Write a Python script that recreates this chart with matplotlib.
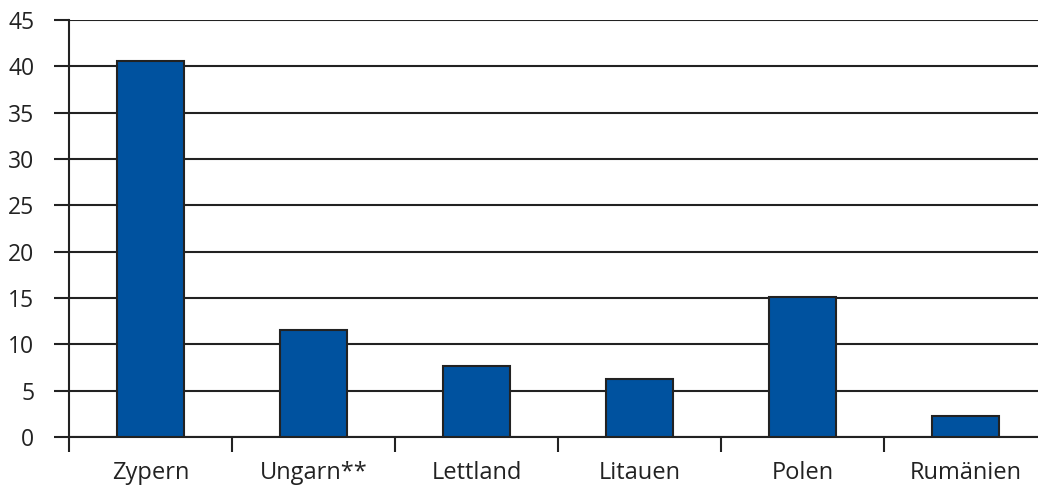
import matplotlib
matplotlib.use("Agg")
import matplotlib.pyplot as plt
import numpy as np

# data
laender = ["Zypern", "Ungarn**", "Lettland", "Litauen", "Polen", "Rumänien"]
werte = [40.6, 11.5, 7.7, 6.3, 15.1, 2.3]
y_ticks = [0, 5, 10, 15, 20, 25, 30, 35, 40, 45]

plt.rcParams['font.family'] = ['Open Sans', 'DejaVu Sans']

fig = plt.figure(figsize=(10.38, 4.88), dpi=100)
# axes runs a bit past the right edge like in the original
ax = fig.add_axes([69 / 1038, 1 - 437 / 488, 978 / 1038, 417 / 488])

x = np.arange(len(laender))
ax.bar(x, werte, width=0.41, color="#00529f", edgecolor="#222222",
       linewidth=1.5, zorder=3)

ax.set_xlim(-0.5, len(laender) - 0.5)
ax.set_ylim(0, 45)
ax.set_yticks(y_ticks)
ax.set_yticklabels([str(t) for t in y_ticks], fontsize=16.5, color="#222222")

# category ticks sit between the bars, labels in the middle
ax.set_xticks(np.arange(-0.5, len(laender), 1.0))
ax.set_xticklabels([])
ax.set_xticks(x, minor=True)
ax.set_xticklabels(laender, minor=True, fontsize=17, color="#222222")
ax.tick_params(axis="x", which="major", length=11, width=1.5, color="#222222")
ax.tick_params(axis="x", which="minor", length=0, pad=17)
ax.tick_params(axis="y", length=11, width=1.5, color="#222222", pad=14)

ax.grid(axis="y", color="#222222", linewidth=1.5, zorder=0)
for s in ["top", "right"]:
    ax.spines[s].set_visible(False)
ax.spines["left"].set_linewidth(1.5)
ax.spines["left"].set_color("#222222")
ax.spines["bottom"].set_linewidth(1.5)
ax.spines["bottom"].set_color("#222222")

plt.savefig("out.png", dpi=100)
